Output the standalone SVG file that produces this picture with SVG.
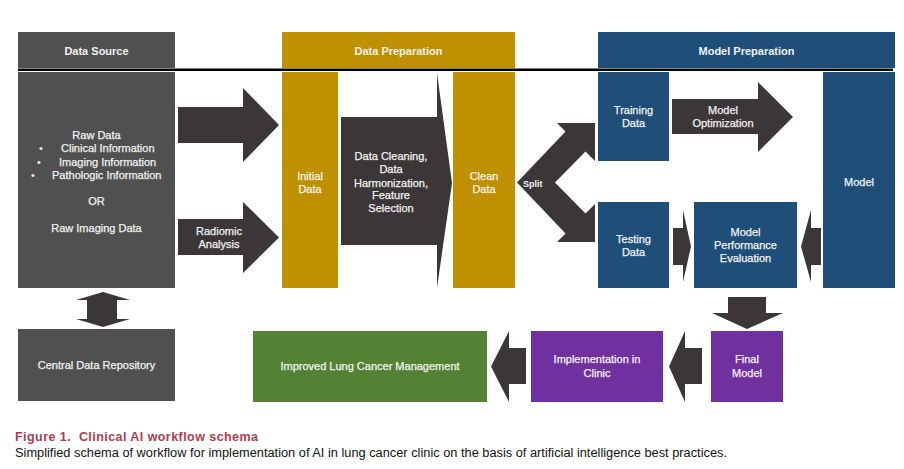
<svg xmlns="http://www.w3.org/2000/svg" width="904" height="469" viewBox="0 0 904 469">
<style>
text{font-family:"Liberation Sans",Arial,sans-serif;font-size:11px;fill:#F2F2F2}
.b{stroke:#F2F2F2;stroke-width:0.25}
.c{text-anchor:middle}
.h{font-weight:bold}
.src{fill:#505050}
.gold{fill:#BF9000}
.blue{fill:#1F4E79}
.green{fill:#548235}
.purple{fill:#7030A0}
.arr{fill:#3B3738}
.cap1{fill:#B03C4B;font-weight:bold;font-size:12.5px}
.cap2{fill:#111111;font-size:12px}
</style>
<rect width="904" height="469" fill="#FFFFFF"/>

<g id="header-data-source">
<rect class="src" x="18" y="32" width="157" height="36"/>
<text class="c h" x="96.5" y="54.5">Data Source</text>
</g>
<g id="header-data-preparation">
<rect class="gold" x="282" y="32" width="233" height="36"/>
<text class="c h" x="398.5" y="54.5">Data Preparation</text>
</g>
<g id="header-model-preparation">
<rect class="blue" x="598" y="32" width="297" height="36"/>
<text class="c h" x="746.5" y="54.5">Model Preparation</text>
</g>
<line x1="18" y1="69.8" x2="893" y2="69.8" stroke="#000000" stroke-width="2.5"/>

<g id="data-source">
<rect class="src" x="18" y="72" width="157" height="216"/>
<text class="c b" x="96.5" y="139">Raw Data</text>
<text x="39" y="152">•</text><text class="b" x="61" y="152">Clinical Information</text>
<text x="37" y="165.5">•</text><text class="b" x="59" y="165.5">Imaging Information</text>
<text x="31" y="178.5">•</text><text class="b" x="52" y="178.5">Pathologic Information</text>
<text class="c b" x="96.5" y="205">OR</text>
<text class="c b" x="96.5" y="232">Raw Imaging Data</text>
</g>

<g id="initial-data">
<rect class="gold" x="282" y="72" width="56" height="216"/>
<text class="c b" x="310" y="180">Initial</text>
<text class="c b" x="310" y="193">Data</text>
</g>

<g id="clean-data">
<rect class="gold" x="453" y="72" width="62" height="216"/>
<text class="c b" x="484" y="180">Clean</text>
<text class="c b" x="484" y="193">Data</text>
</g>

<g id="training-data">
<rect class="blue" x="598" y="72" width="71" height="89"/>
<text class="c b" x="633.5" y="114">Training</text>
<text class="c b" x="633.5" y="127">Data</text>
</g>

<g id="testing-data">
<rect class="blue" x="598" y="202" width="71" height="86"/>
<text class="c b" x="633.5" y="243">Testing</text>
<text class="c b" x="633.5" y="256">Data</text>
</g>

<g id="model-performance-evaluation">
<rect class="blue" x="694" y="202" width="103" height="86"/>
<text class="c b" x="745.5" y="236">Model</text>
<text class="c b" x="745.5" y="249">Performance</text>
<text class="c b" x="745.5" y="262">Evaluation</text>
</g>

<g id="model">
<rect class="blue" x="823" y="72" width="72" height="216"/>
<text class="c b" x="859" y="186">Model</text>
</g>

<g id="central-data-repository">
<rect class="src" x="18" y="329" width="157" height="72"/>
<text class="c b" x="96.5" y="369">Central Data Repository</text>
</g>

<g id="improved-lung-cancer-management">
<rect class="green" x="253" y="331" width="234" height="71"/>
<text class="c b" x="370" y="370">Improved Lung Cancer Management</text>
</g>

<g id="implementation-in-clinic">
<rect class="purple" x="531" y="331" width="132" height="71"/>
<text class="c b" x="597" y="363">Implementation in</text>
<text class="c b" x="597" y="377">Clinic</text>
</g>

<g id="final-model">
<rect class="purple" x="711" y="331" width="72" height="71"/>
<text class="c b" x="747" y="363">Final</text>
<text class="c b" x="747" y="377">Model</text>
</g>

<g id="connectors">
<polygon class="arr" points="178,107 243,107 243,88 279,125 243,162 243,143 178,143"/>
<polygon class="arr" points="178,219 243,219 243,202 279,237.5 243,273 243,255 178,255"/>
<text class="c b" x="219" y="235">Radiomic</text>
<text class="c b" x="219" y="248">Analysis</text>
<polygon class="arr" points="341,117 437,117 437,73 452,183 437,288 437,245 341,245"/>
<text class="c b" x="391" y="160">Data Cleaning,</text>
<text class="c b" x="391" y="173">Data</text>
<text class="c b" x="391" y="186.5">Harmonization,</text>
<text class="c b" x="391" y="199">Feature</text>
<text class="c b" x="391" y="212">Selection</text>
<polygon class="arr" points="517,182.5 565.5,131.5 557,123 595,123 595,161 585.5,151.5 555,182.5 585.5,213.5 595,204 595,242 557,242 565.5,233.5"/>
<text class="h" x="523" y="187" style="font-size:9px">Split</text>
<polygon class="arr" points="672,99 758,99 758,82 793,117 758,152 758,134 672,134"/>
<text class="c b" x="723" y="114">Model</text>
<text class="c b" x="723" y="127">Optimization</text>
<polygon class="arr" points="673,228 683,228 683,210 691,246.5 683,282 683,265 673,265"/>
<polygon class="arr" points="821,228 811,228 811,210 801,246.5 811,282 811,265 821,265"/>
<polygon class="arr" points="103,292 130,300 117,300 117,319 130,319 103,327 76,319 87,319 87,300 76,300"/>
<polygon class="arr" points="728,297 766,297 766,313 783,313 747,329 712,313 728,313"/>
<polygon class="arr" points="702,348 685,348 685,331 669,366.5 685,402 685,384 702,384"/>
<polygon class="arr" points="526,348 509,348 509,331 491,366.5 509,402 509,384 526,384"/>
</g>

<g id="caption">
<text class="cap1" x="15" y="441" textLength="243" lengthAdjust="spacing" xml:space="preserve">Figure 1.  Clinical AI workflow schema</text>
<text class="cap2" x="15" y="456.5" textLength="712" lengthAdjust="spacingAndGlyphs">Simplified schema of workflow for implementation of AI in lung cancer clinic on the basis of artificial intelligence best practices.</text>
</g>
</svg>
